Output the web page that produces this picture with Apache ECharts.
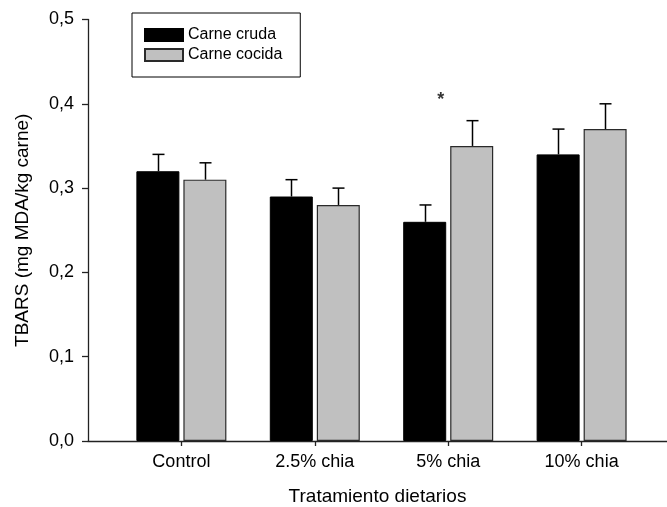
<!DOCTYPE html>
<html>
<head>
<meta charset="utf-8">
<script src="https://cdn.jsdelivr.net/npm/echarts@6/dist/echarts.min.js"></script>
<style>
html,body{margin:0;padding:0;background:#fff;}
#chart{width:667px;height:507px;}
</style>
</head>
<body>
<div id="chart"></div>
<script>
var categories = ['Control', '2.5% chia', '5% chia', '10% chia'];
var categoryPositions = [1, 2, 3, 4];
var crudaValues = [0.32, 0.29, 0.26, 0.34];
var crudaErrors = [0.02, 0.02, 0.02, 0.03];
var cocidaValues = [0.31, 0.28, 0.35, 0.37];
var cocidaErrors = [0.02, 0.02, 0.03, 0.03];
var yTicks = [0, 0.1, 0.2, 0.3, 0.4, 0.5];
var asteriskPoint = [2.945, 0.405];

var FONT = '"Liberation Sans", Arial, sans-serif';
var BAR_W = 43;
var BAR_GAP = 4;
var OFFSET = (BAR_W + BAR_GAP) / 2;

function pairs(vals) {
  return vals.map(function (v, i) { return [categoryPositions[i], v]; });
}
var errData = [];
crudaValues.forEach(function (v, i) { errData.push([categoryPositions[i], v, crudaErrors[i], 0]); });
cocidaValues.forEach(function (v, i) { errData.push([categoryPositions[i], v, cocidaErrors[i], 1]); });

var chart = echarts.init(document.getElementById('chart'), null, {renderer: 'canvas'});
chart.setOption({
  animation: false,
  backgroundColor: '#fff',
  textStyle: {fontFamily: FONT},
  grid: {left: 88, right: 0, top: 19.5, bottom: 66, containLabel: false, outerBoundsMode: 'none'},
  legend: {
    orient: 'vertical',
    left: 132, top: 13,
    padding: [14, 18, 14, 12],
    borderColor: '#000', borderWidth: 1,
    itemWidth: 38, itemHeight: 12, itemGap: 4,
    textStyle: {fontFamily: FONT, fontSize: 16, color: '#000', lineHeight: 16},
    data: [{name: 'Carne cruda', icon: 'rect'}, {name: 'Carne cocida', icon: 'rect'}]
  },
  xAxis: {
    type: 'value',
    min: 0.3, max: 4.64,
    name: 'Tratamiento dietarios',
    nameLocation: 'middle',
    nameGap: 46,
    nameTextStyle: {fontFamily: FONT, fontSize: 19, color: '#000'},
    axisLine: {show: true, onZero: false, lineStyle: {color: '#222', width: 1.3}},
    axisTick: {show: true, inside: false, length: 5, customValues: categoryPositions, lineStyle: {color: '#222', width: 1.3}},
    axisLabel: {
      customValues: categoryPositions,
      margin: 12.5,
      fontFamily: FONT, fontSize: 18, color: '#000',
      formatter: function (v) { return categories[Math.round(v) - 1]; }
    },
    splitLine: {show: false}
  },
  yAxis: {
    type: 'value',
    min: 0, max: 0.5, interval: 0.1,
    name: 'TBARS (mg MDA/kg carne)',
    nameLocation: 'middle',
    nameGap: 56,
    nameTextStyle: {fontFamily: FONT, fontSize: 19, color: '#000'},
    axisLine: {show: true, lineStyle: {color: '#222', width: 1.3}},
    axisTick: {show: true, inside: false, length: 6, lineStyle: {color: '#222', width: 1.3}},
    axisLabel: {
      margin: 14,
      fontFamily: FONT, fontSize: 18, color: '#000',
      formatter: function (v) { return v.toFixed(1).replace('.', ','); }
    },
    splitLine: {show: false}
  },
  series: [
    {
      name: 'Carne cruda',
      type: 'bar',
      barWidth: BAR_W,
      barGap: (BAR_GAP / BAR_W * 100).toFixed(1) + '%',
      itemStyle: {color: '#000', borderColor: '#000', borderWidth: 1},
      data: pairs(crudaValues)
    },
    {
      name: 'Carne cocida',
      type: 'bar',
      barWidth: BAR_W,
      barGap: (BAR_GAP / BAR_W * 100).toFixed(1) + '%',
      itemStyle: {color: '#c0c0c0', borderColor: '#2a2a2a', borderWidth: 1.2},
      data: pairs(cocidaValues)
    },
    {
      type: 'custom',
      z: 5,
      silent: true,
      data: errData,
      renderItem: function (params, api) {
        var x = api.value(0), v = api.value(1), e = api.value(2), s = api.value(3);
        var off = s === 0 ? -OFFSET : OFFSET;
        var base = api.coord([x, v]);
        var top = api.coord([x, v + e]);
        var cx = Math.round(base[0] + off) + 0.5;
        var style = {stroke: '#000', lineWidth: 1.5};
        return {
          type: 'group',
          children: [
            {type: 'line', shape: {x1: cx, y1: base[1], x2: cx, y2: top[1]}, style: style},
            {type: 'line', shape: {x1: cx - 6, y1: top[1], x2: cx + 6, y2: top[1]}, style: style}
          ]
        };
      }
    },
    {
      type: 'scatter',
      symbolSize: 0,
      silent: true,
      data: [asteriskPoint],
      label: {show: true, position: 'inside', formatter: '*', fontFamily: FONT, fontSize: 18, fontWeight: 'bold', color: '#000'}
    }
  ]
});
</script>
</body>
</html>
